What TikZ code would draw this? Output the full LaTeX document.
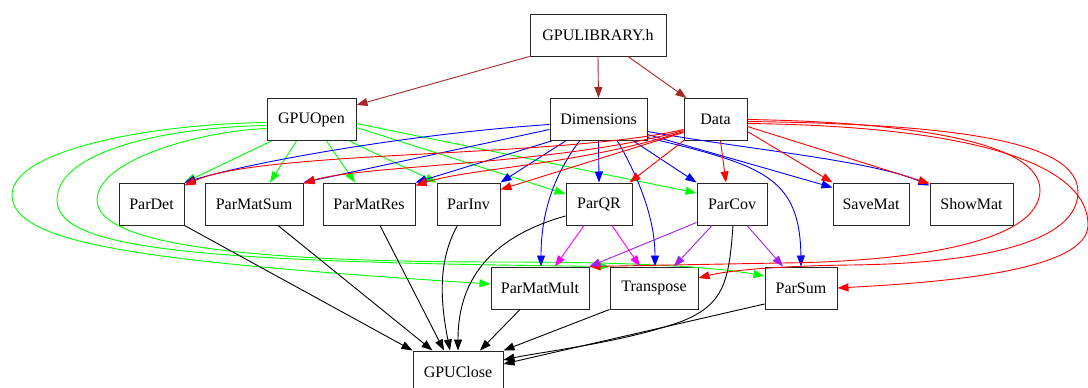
\documentclass[tikz,border=0pt]{standalone}
\usepackage{fontspec}
\setmainfont{Liberation Serif}
\usetikzlibrary{arrows.meta,calc}
\definecolor{gvbrown}{HTML}{A52A2A}
\definecolor{gvgreen}{HTML}{00FF00}
\definecolor{gvblue}{HTML}{0000FF}
\definecolor{gvred}{HTML}{FF0000}
\definecolor{gvmagenta}{HTML}{FF00FF}
\definecolor{gvpurple}{HTML}{A020F0}
\begin{document}
\begin{tikzpicture}[x=1pt,y=-1pt,
  box/.style={draw=black!85, line width=1pt, minimum height=42pt, inner sep=0pt,
    font=\fontsize{16}{19}\selectfont},
  link/.style={line width=0.9pt, -{Triangle[length=11pt,width=8pt]}},
  lbrown/.style={link, draw=gvbrown},
  lgreen/.style={link, draw=gvgreen},
  lblue/.style={link, draw=gvblue},
  lred/.style={link, draw=gvred},
  lmag/.style={link, draw=gvmagenta},
  lpurple/.style={link, draw=gvpurple},
  lblack/.style={link, draw=black}]
\useasboundingbox[fill=white] (0,0) rectangle (1088,388);

% header and setup nodes
\node[box, minimum width=136pt] (GPUL) at (598,35)    {GPULIBRARY.h};
\node[box, minimum width=89pt]  (GO)   at (311.5,119.5) {GPUOpen};
\node[box, minimum width=97pt]  (Dim)  at (598.5,119.5) {Dimensions};
\node[box, minimum width=63pt]  (Data) at (715.5,119.5) {Data};

% routines
\node[box, minimum width=65pt] (PD)  at (151.5,204) {ParDet};
\node[box, minimum width=98pt] (PMS) at (254,204)   {ParMatSum};
\node[box, minimum width=92pt] (PMR) at (369,204)   {ParMatRes};
\node[box, minimum width=63pt] (PI)  at (468.5,204) {ParInv};
\node[box, minimum width=66pt] (PQR) at (599,204)   {ParQR};
\node[box, minimum width=70pt] (PC)  at (732,204)   {ParCov};
\node[box, minimum width=76pt] (SM)  at (871,204)   {SaveMat};
\node[box, minimum width=83pt] (ShM) at (971.5,204) {ShowMat};

\node[box, minimum width=98pt] (PMM) at (540,288) {ParMatMult};
\node[box, minimum width=88pt] (Tr)  at (654,288) {Transpose};
\node[box, minimum width=72pt] (PS)  at (801,288) {ParSum};

\node[box, minimum width=90pt] (GC) at (458,372) {GPUClose};

% header dependencies
\draw[lbrown] (GPUL.south west) -- ($(GO.north east)+(0,7)$);
\draw[lbrown] (GPUL.south) -- (Dim.north);
\draw[lbrown] ($(GPUL.south)+(30,0)$) -- ($(Data.north west)+(3,0)$);

% GPUOpen
\draw[lgreen] ($(GO.south)+(-40,0)$) -- (PD.north east);
\draw[lgreen] ($(GO.south)+(-15,0)$) -- ($(PMS.north)+(16,0)$);
\draw[lgreen] ($(GO.south)+(15,0)$) -- ($(PMR.north)+(-14,0)$);
\draw[lgreen] ($(GO.south)+(38,0)$) -- (PI.north west);
\draw[lgreen] ($(GO.east)+(0,8)$) -- ($(PQR.west)+(0,-10)$);
\draw[lgreen] ($(GO.east)+(0,4)$) -- ($(PC.west)+(0,-11)$);
\draw[lgreen] ($(GO.west)+(0,3)$) .. controls (150,124) and (12,150) .. (12,195)
  .. controls (12,245) and (150,262) .. ($(PMM.west)+(0,-4)$);
\draw[lgreen] ($(GO.west)+(0,6)$) .. controls (170,127) and (57,150) .. (57,200)
  .. controls (57,250) and (200,262) .. (Tr.north west);
\draw[lgreen] ($(GO.west)+(0,9)$) .. controls (200,131) and (97,160) .. (97,200)
  .. controls (97,245) and (250,262) .. (500,262)
  .. controls (650,262) and (720,268) .. ($(PS.west)+(0,-12)$);

% Dimensions
\draw[lblue] ($(Dim.west)+(0,5)$) .. controls (420,133) and (260,160) .. (PD.north east);
\draw[lblue] ($(Dim.west)+(0,10)$) -- (PMS.north east);
\draw[lblue] ($(Dim.south west)+(2,0)$) -- (PMR.north east);
\draw[lblue] ($(Dim.south)+(-33,0)$) -- (PI.north east);
\draw[lblue] (Dim.south) -- (PQR.north);
\draw[lblue] ($(Dim.south)+(35,0)$) -- (PC.north west);
\draw[lblue] ($(Dim.east)+(0,15)$) -- ($(SM.north west)+(0,5)$);
\draw[lblue] ($(Dim.east)+(0,12)$) .. controls (750,150) and (870,160) .. ($(ShM.north west)+(0,3)$);
\draw[lblue] ($(Dim.east)+(0,18)$) .. controls (760,165) and (800,175) .. (PS.north);
\draw[lblue] ($(Dim.south)+(-19,0)$) .. controls (550,180) and (541,220) .. ($(PMM.north)+(1,0)$);
\draw[lblue] ($(Dim.south)+(19,0)$) .. controls (640,180) and (655,220) .. ($(Tr.north)+(1,0)$);

% Data
\draw[lred] ($(Data.west)+(0,10)$) .. controls (560,158) and (260,150) .. ($(PD.north east)+(0,3)$);
\draw[lred] ($(Data.west)+(0,11)$) .. controls (560,165) and (360,165) .. ($(PMS.north east)+(0,1)$);
\draw[lred] ($(Data.west)+(0,12)$) .. controls (580,165) and (470,168) .. ($(PMR.north east)+(0,3)$);
\draw[lred] ($(Data.west)+(0,13)$) -- ($(PI.north east)+(0,7)$);
\draw[lred] ($(Data.south west)+(1,-1)$) -- ($(PQR.north east)+(-3,0)$);
\draw[lred] ($(Data.south)+(5,0)$) -- ($(PC.north)+(-6,0)$);
\draw[lred] ($(Data.east)+(0,12)$) -- (SM.north west);
\draw[lred] ($(Data.east)+(0,7)$) -- ($(ShM.north west)+(0,1)$);
\draw[lred] (Data.east) .. controls (900,122) and (1040,140) .. (1040,190)
  .. controls (1040,245) and (900,262) .. (780,263) -- (PMM.north east);
\draw[lred] ($(Data.east)+(0,2)$) .. controls (950,124) and (1078,140) .. (1078,192)
  .. controls (1078,250) and (950,264) .. (850,265)
  .. controls (780,266) and (730,270) .. ($(Tr.east)+(0,-10)$);
\draw[lred] ($(Data.east)+(0,4)$) .. controls (960,126) and (1088,160) .. (1088,225)
  .. controls (1088,270) and (950,282) .. (PS.east);

% ParCov and ParQR helpers
\draw[lpurple] ($(PC.south west)+(0,-3)$) -- (PMM.north east);
\draw[lpurple] ($(PC.south)+(-20,0)$) -- ($(Tr.north)+(20,0)$);
\draw[lpurple] ($(PC.south)+(15,0)$) -- ($(PS.north)+(-18,0)$);
\draw[lmag] ($(PQR.south)+(-15,0)$) -- ($(PMM.north)+(15,0)$);
\draw[lmag] ($(PQR.south)+(13,0)$) -- ($(Tr.north)+(-14,0)$);

% GPUClose
\draw[lblack] (PD.south east) -- (GC.north west);
\draw[lblack] ($(PMS.south)+(24,0)$) -- ($(GC.north west)+(20,0)$);
\draw[lblack] ($(PMR.south)+(11,0)$) -- ($(GC.north)+(-14,0)$);
\draw[lblack] ($(PI.south)+(-11,0)$) .. controls (438,260) and (440,300) .. ($(GC.north)+(-8,0)$);
\draw[lblack] ($(PQR.west)+(0,12)$) .. controls (480,240) and (458,290) .. (GC.north);
\draw[lblack] ($(PMM.south)+(-20,0)$) -- ($(GC.north)+(22,0)$);
\draw[lblack] (Tr.south west) -- (GC.north east);
\draw[lblack] ($(PS.west)+(0,16)$) -- ($(GC.east)+(0,-8)$);
\draw[lblack] ($(PC.south)+(1,0)$) .. controls (729,280) and (725,305) .. (680,322)
  .. controls (620,343) and (540,352) .. ($(GC.east)+(0,-12)$);
\end{tikzpicture}
\end{document}
